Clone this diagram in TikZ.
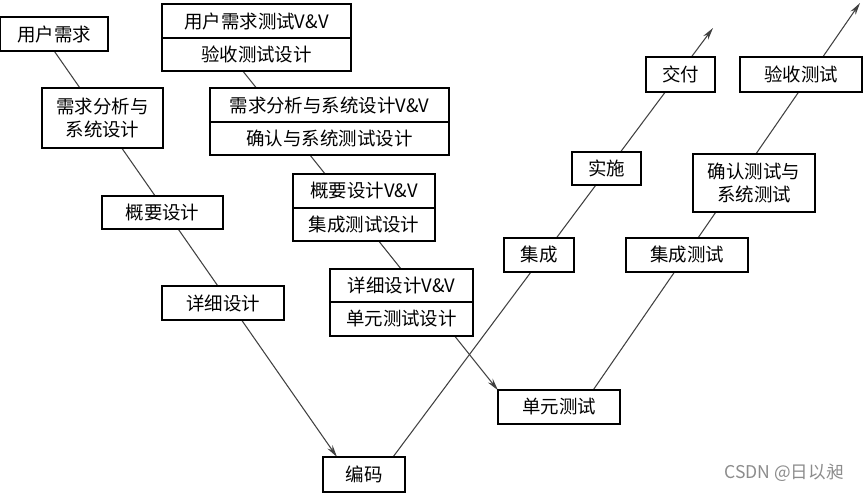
\documentclass[tikz,border=0pt]{standalone}
\usepackage{fontspec}
\newfontfamily\cjk{Noto Sans CJK SC}
\usetikzlibrary{positioning,backgrounds,arrows.meta}

\begin{document}
\begin{tikzpicture}[
  box/.style  = {draw, line width=1pt, fill=white, outer sep=0pt,
                 inner sep=1pt, minimum height=0.67cm,
                 font=\cjk\fontsize{10.5}{13}\selectfont, align=center},
  conn/.style = {black!75, line width=0.6pt},
  >={Stealth[length=7pt,width=3.5pt]}
]
  \useasboundingbox (0,0) rectangle (17.3,-9.9);

  % Lado esquerdo: desenvolvimento
  \node[box, minimum width=2.16cm] (user)  at (1.08,-0.68) {用户需求};
  \node[box, minimum width=2.42cm, minimum height=1.2cm] (reqsys) at (2.05,-2.36)
       {需求分析与\\系统设计};
  \node[box, minimum width=2.42cm] (outl)  at (3.25,-4.25) {概要设计};
  \node[box, minimum width=2.44cm] (detl)  at (4.46,-6.06) {详细设计};
  \node[box, minimum width=1.64cm, minimum height=0.7cm] (code) at (7.28,-9.49) {编码};

  % Caixas duplas V&V
  \node[box, minimum width=3.78cm] (uvv) at (5.13,-0.42) {用户需求测试V\&V};
  \node[box, minimum width=3.78cm, below=0pt of uvv] (atd) {验收测试设计};
  \node[box, minimum width=4.78cm] (rvv) at (6.59,-2.10) {需求分析与系统设计V\&V};
  \node[box, minimum width=4.78cm, below=0pt of rvv] (vtd) {确认与系统测试设计};
  \node[box, minimum width=2.84cm] (ovv) at (7.28,-3.82) {概要设计V\&V};
  \node[box, minimum width=2.84cm, below=0pt of ovv] (itd) {集成测试设计};
  \node[box, minimum width=2.86cm] (dvv) at (8.03,-5.71) {详细设计V\&V};
  \node[box, minimum width=2.86cm, below=0pt of dvv] (utd) {单元测试设计};

  % Lado direito: testes e entrega
  \node[box, minimum width=2.44cm] (unit)  at (11.18,-8.14) {单元测试};
  \node[box, minimum width=1.40cm] (integ) at (10.78,-5.10) {集成};
  \node[box, minimum width=2.44cm] (itest) at (13.74,-5.10) {集成测试};
  \node[box, minimum width=1.38cm, minimum height=0.66cm] (impl) at (12.13,-3.37) {实施};
  \node[box, minimum width=2.44cm, minimum height=1.16cm] (vtest) at (15.08,-3.66)
       {确认测试与\\系统测试};
  \node[box, minimum width=1.38cm, minimum height=0.7cm] (deliv) at (13.61,-1.49) {交付};
  \node[box, minimum width=2.44cm, minimum height=0.7cm] (atest) at (16.02,-1.49) {验收测试};

  \coordinate (tipA) at (14.26,-0.56);
  \coordinate (tipB) at (17.20,-0.06);

  % Linhas por tras das caixas
  \begin{scope}[on background layer]
    \draw[conn, ->] (user.south) -- ([xshift=-0.54cm]code.north);
    \draw[conn, ->] ([xshift=0.58cm]code.north) -- (tipA);
    \draw[conn, ->] ([xshift=-0.27cm]atd.south) -- (unit.north west);
    \draw[conn, ->] ([xshift=0.68cm]unit.north) -- (tipB);
  \end{scope}

  \node[text=black!45, font=\cjk\fontsize{10}{12}\selectfont] (mark) at (15.68,-9.46)
       {CSDN @日以昶};
\end{tikzpicture}
\end{document}
